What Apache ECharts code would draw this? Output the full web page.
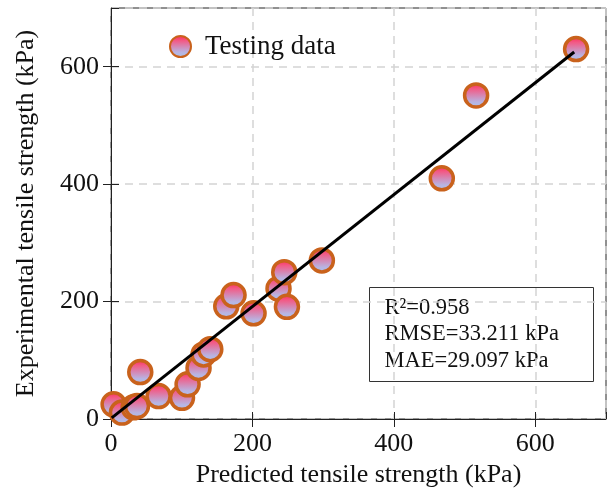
<!DOCTYPE html>
<html>
<head>
<meta charset="utf-8">
<script src="https://cdn.jsdelivr.net/npm/echarts@6/dist/echarts.min.js"></script>
<style>
  html, body { margin: 0; padding: 0; background: #fff; }
  #chart { width: 608px; height: 493px; }
</style>
</head>
<body>
<div id="chart"></div>
<script>
// Predicted vs. experimental tensile strength (kPa), testing set
const predicted = [3.7, 15.5, 32, 36.7, 41.4, 67.3, 100.4, 108.3, 123.8, 130.9, 140.4,
                   163, 173.3, 201.6, 236.9, 245, 248.8, 298.2, 467.8, 516.3, 657.7];
const experimental = [25, 11, 20, 22, 80, 39, 36, 59, 87, 110, 119,
                      192, 211, 180, 222, 250, 191, 270, 410, 551, 630];
// Regression line end points
const fitLine = [[1, 2], [655, 625]];
const axisTicks = [0, 200, 400, 600];
const statsLines = ['R\u00B2=0.958', 'RMSE=33.211 kPa', 'MAE=29.097 kPa'];
const seriesName = 'Testing data';

const FONT = '"Liberation Serif", "Times New Roman", serif';
const points = predicted.map((x, i) => [x, experimental[i]]);

const markerFill = new echarts.graphic.LinearGradient(0, 0, 0, 1, [
  { offset: 0, color: '#ff2450' },
  { offset: 0.25, color: '#f25a86' },
  { offset: 0.75, color: '#b8b4e2' },
  { offset: 1, color: '#a8c2ec' }
]);

const chart = echarts.init(document.getElementById('chart'), null, { renderer: 'canvas' });

const grid = { left: 111, right: 2, top: 8, bottom: 70 };

const baseAxis = {
  min: 0, max: 700, interval: 200
};

chart.setOption({
  animation: false,
  backgroundColor: '#fff',
  grid: Object.assign({ show: true, borderColor: '#222', borderWidth: 1, backgroundColor: 'transparent' }, grid),
  legend: {
    show: true,
    data: [seriesName],
    left: 164, top: 28,
    itemWidth: 21, itemHeight: 21,
    icon: 'circle',
    textStyle: { fontFamily: FONT, fontSize: 27, color: '#111', padding: [0, 0, 0, 9] }
  },
  xAxis: [
    Object.assign({}, baseAxis, {
      type: 'value',
      axisLine: { show: true, onZero: false, lineStyle: { color: '#222', width: 1 } },
      axisTick: { show: true, inside: false, length: 8, lineStyle: { color: '#222', width: 1 } },
      axisLabel: {
        fontFamily: FONT, fontSize: 26, color: '#111', margin: 12, showMaxLabel: false,
        formatter: v => (axisTicks.indexOf(v) >= 0 ? String(v) : '')
      },
      splitLine: { show: true, lineStyle: { color: '#d4d4d4', width: 1.5, type: [8, 6] } },
      name: 'Predicted tensile strength (kPa)',
      nameLocation: 'middle', nameGap: 43,
      nameTextStyle: { fontFamily: FONT, fontSize: 26, color: '#111' }
    }),
    Object.assign({}, baseAxis, {
      type: 'value', position: 'bottom',
      axisLine: { show: false },
      axisTick: { show: true, inside: true, length: 7, lineStyle: { color: '#222', width: 1 } },
      axisLabel: { show: false },
      splitLine: { show: false }
    })
  ],
  yAxis: [
    Object.assign({}, baseAxis, {
      type: 'value',
      axisLine: { show: true, onZero: false, lineStyle: { color: '#222', width: 1 } },
      axisTick: { show: true, inside: false, length: 8, lineStyle: { color: '#222', width: 1 } },
      axisLabel: {
        fontFamily: FONT, fontSize: 26, color: '#111', margin: 12, showMaxLabel: false,
        formatter: v => (axisTicks.indexOf(v) >= 0 ? String(v) : '')
      },
      splitLine: { show: true, lineStyle: { color: '#d4d4d4', width: 1.5, type: [8, 6] } },
      name: 'Experimental tensile strength (kPa)',
      nameLocation: 'middle', nameGap: 72,
      nameTextStyle: { fontFamily: FONT, fontSize: 26, color: '#111' }
    }),
    Object.assign({}, baseAxis, {
      type: 'value', position: 'left',
      axisLine: { show: false },
      axisTick: { show: true, inside: true, length: 8, lineStyle: { color: '#222', width: 1 } },
      axisLabel: { show: false },
      splitLine: { show: false }
    })
  ],
  series: [
    {
      name: 'fit',
      type: 'line',
      data: fitLine,
      symbol: 'none',
      silent: true,
      lineStyle: { color: '#000', width: 3 },
      z: 3
    },
    {
      name: seriesName,
      type: 'scatter',
      data: points,
      symbol: 'circle',
      symbolSize: 23,
      itemStyle: { color: markerFill, borderColor: '#c9621c', borderWidth: 3.5, opacity: 1 },
      z: 2
    }
  ],
  graphic: [
    {
      type: 'group',
      left: 369, top: 287,
      children: [
        {
          type: 'rect',
          shape: { x: 0, y: 0, width: 224, height: 94 },
          style: { fill: '#fff', stroke: '#333', lineWidth: 1 }
        },
        {
          type: 'text',
          x: 15, y: 7,
          style: {
            text: statsLines.join('\n'),
            font: '22.5px ' + FONT,
            fill: '#111',
            lineHeight: 26.5
          }
        }
      ]
    }
  ]
});
</script>
</body>
</html>
